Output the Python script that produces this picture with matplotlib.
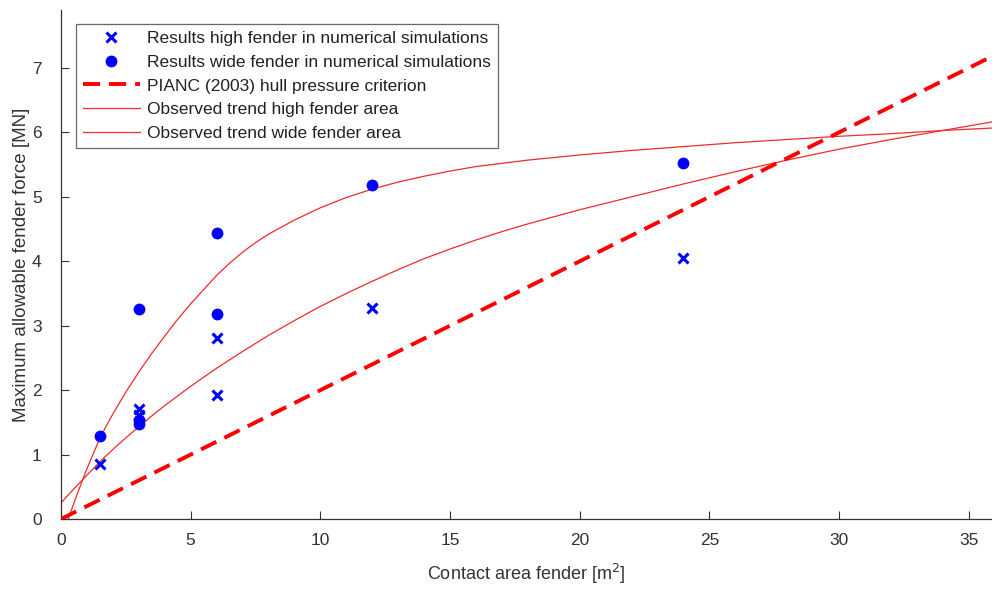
import numpy as np
import matplotlib
matplotlib.use("Agg")
import matplotlib.pyplot as plt

# 수치 시뮬레이션 결과
high_x = [1.5, 3, 3, 6, 6, 12, 24]
high_y = [0.85, 1.70, 1.61, 1.92, 2.81, 3.27, 4.05]

wide_x = [1.5, 3, 3, 3, 6, 6, 12, 24]
wide_y = [1.29, 3.26, 1.54, 1.47, 3.18, 4.44, 5.18, 5.52]

# PIANC (2003) 기준선
pianc_x = [0, 36]
pianc_y = [0, 7.2]

# 추세선 (그림에서 읽은 점)
trend_high_x = [0.28, 0.5, 0.75, 1, 1.25, 1.5, 1.75, 2, 2.5, 3, 3.5, 4, 4.5, 5,
                5.5, 6, 6.5, 7, 7.5, 8, 9, 10, 11, 12, 13, 14, 15, 16, 18, 20,
                22, 24, 26, 28, 30, 32, 34, 36]
trend_high_y = [0.0, 0.25, 0.52, 0.78, 1.02, 1.25, 1.45, 1.63, 1.97, 2.28, 2.57,
                2.84, 3.10, 3.34, 3.56, 3.78, 3.97, 4.14, 4.29, 4.42, 4.64, 4.83,
                4.99, 5.12, 5.23, 5.32, 5.40, 5.47, 5.57, 5.65, 5.72, 5.78, 5.84,
                5.89, 5.94, 5.98, 6.03, 6.07]

trend_wide_x = [0, 0.5, 1, 1.5, 2, 2.5, 3, 3.5, 4, 4.5, 5, 5.5, 6, 7, 8, 9, 10,
                11, 12, 13, 14, 15, 16, 17, 18, 20, 22, 24, 26, 28, 30, 32, 34, 36]
trend_wide_y = [0.25, 0.47, 0.68, 0.89, 1.08, 1.26, 1.43, 1.60, 1.76, 1.91, 2.06,
                2.20, 2.34, 2.60, 2.85, 3.08, 3.30, 3.50, 3.69, 3.87, 4.04, 4.19,
                4.33, 4.46, 4.58, 4.80, 5.00, 5.20, 5.39, 5.57, 5.74, 5.89, 6.03,
                6.17]

plt.rcParams['font.family'] = ['Liberation Sans', 'DejaVu Sans']

fig = plt.figure(figsize=(9.92, 5.89), dpi=100)
ax = fig.add_axes([61 / 992, 70 / 589, 931 / 992, 509 / 589])

red = '#ff0000'
trend_red = '#ee2c2c'
blue = '#0000ff'

ax.plot(high_x, high_y, 'x', color=blue, markersize=7, mew=2.2,
        label='Results high fender in numerical simulations', zorder=4)
ax.plot(wide_x, wide_y, 'o', color=blue, markersize=7.5,
        label='Results wide fender in numerical simulations', zorder=4)
ax.plot(pianc_x, pianc_y, '--', color=red, lw=2.8, dashes=(4.4, 2.3),
        label='PIANC (2003) hull pressure criterion', zorder=3)
ax.plot(trend_high_x, trend_high_y, '-', color=trend_red, lw=0.9,
        label='Observed trend high fender area', zorder=2)
ax.plot(trend_wide_x, trend_wide_y, '-', color=trend_red, lw=0.9,
        label='Observed trend wide fender area', zorder=2)

ax.set_xlim(0, 35.9)
ax.set_ylim(0, 7.9)
ax.set_xticks([0, 5, 10, 15, 20, 25, 30, 35])
ax.set_yticks([0, 1, 2, 3, 4, 5, 6, 7])

for s in ['top', 'right']:
    ax.spines[s].set_visible(False)
for s in ['left', 'bottom']:
    ax.spines[s].set_color('#333333')
    ax.spines[s].set_linewidth(0.9)
ax.tick_params(direction='in', length=6, width=0.8, color='#333333',
               labelsize=12.5, labelcolor='#333333')
ax.tick_params(axis='x', pad=10)
ax.tick_params(axis='y', pad=14)

ax.set_xlabel('Contact area fender [m$^2$]', fontsize=13, color='#333333',
              labelpad=10)
ax.set_ylabel('Maximum allowable fender force [MN]', fontsize=13.5,
              color='#333333', labelpad=1)

leg = ax.legend(loc='upper left', bbox_to_anchor=(0.016, 0.973), fontsize=12.5,
                frameon=True, fancybox=False, handlelength=3.3,
                handletextpad=0.4, labelspacing=0.5, borderpad=0.4,
                borderaxespad=0)
leg.get_frame().set_edgecolor('#444444')
leg.get_frame().set_linewidth(0.9)
for t in leg.get_texts():
    t.set_color('#222222')

fig.savefig('out.png', dpi=100)
